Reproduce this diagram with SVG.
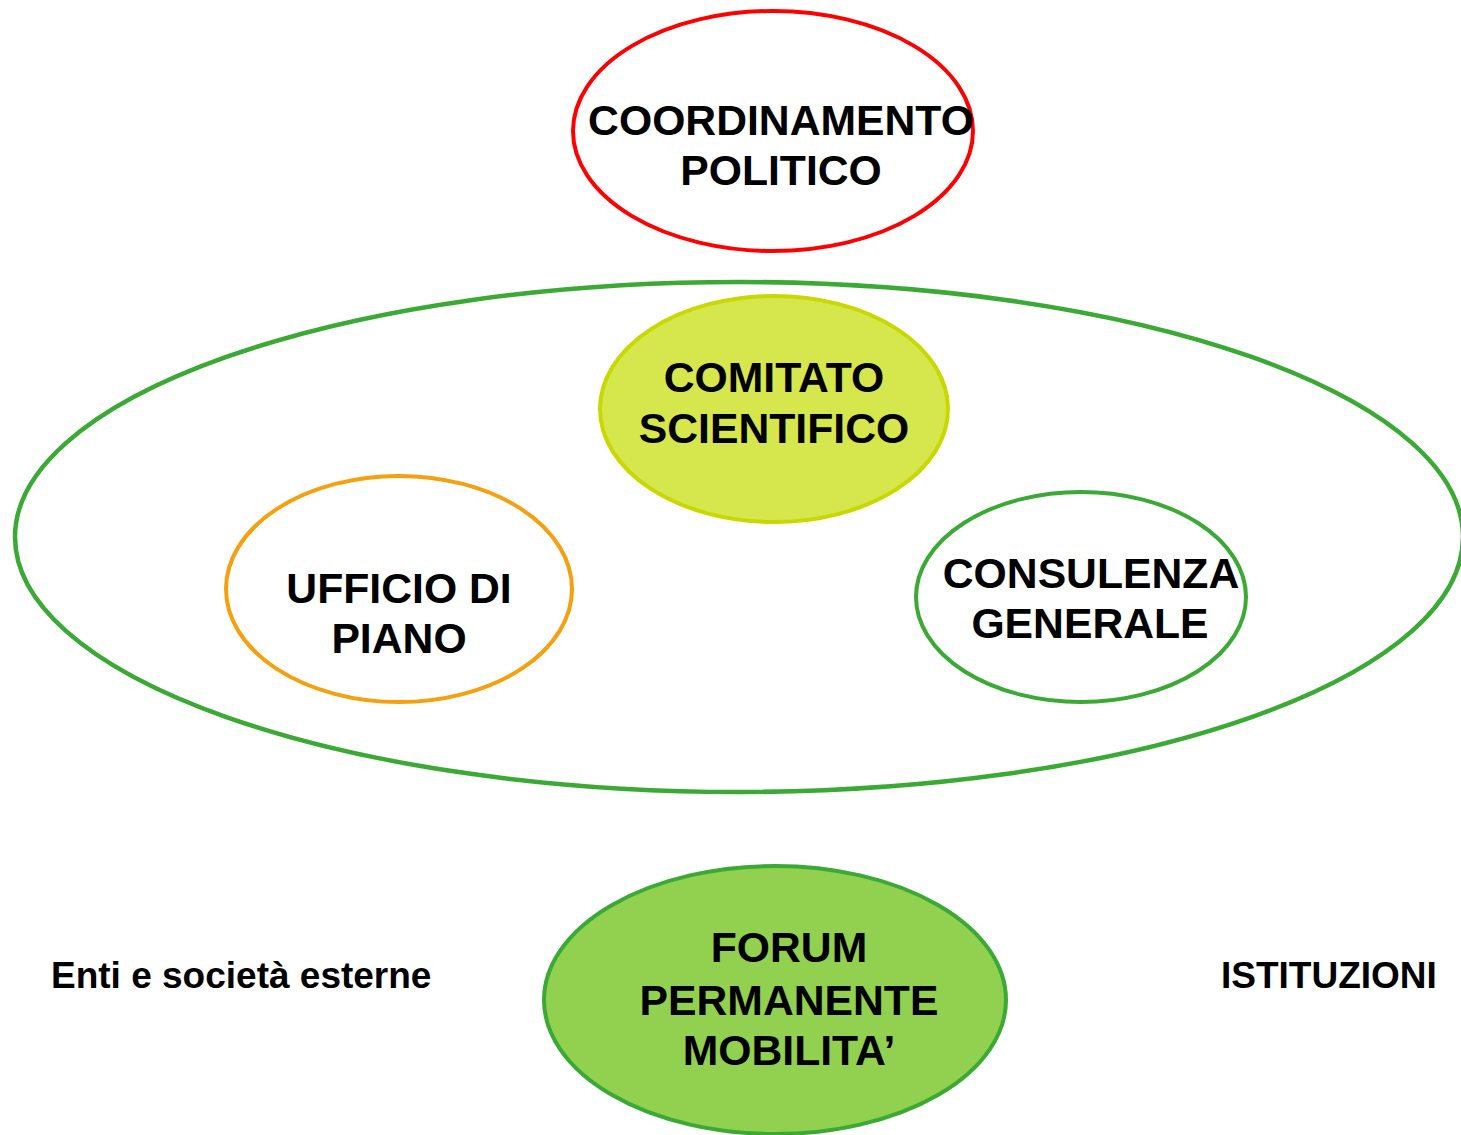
<svg xmlns="http://www.w3.org/2000/svg" width="1461" height="1135" viewBox="0 0 1461 1135">
<style>
.t{font-family:"Liberation Sans",Arial,sans-serif;font-weight:bold;font-size:42.7px;fill:#000;text-anchor:middle}
.s{font-family:"Liberation Sans",Arial,sans-serif;font-weight:bold;font-size:37px;fill:#000}
</style>
<rect width="1461" height="1135" fill="#fff"/>
<g id="outer"><ellipse cx="739" cy="537" rx="724" ry="255" fill="none" stroke="#3aaa35" stroke-width="4.5"/></g>
<g id="coordinamento"><ellipse cx="773" cy="131" rx="200" ry="120" fill="#fff" stroke="#ff0000" stroke-width="4"/>
<text class="t" x="781" y="135">COORDINAMENTO</text><text class="t" x="781" y="185">POLITICO</text></g>
<g id="comitato"><ellipse cx="774" cy="409" rx="174" ry="113" fill="#d6e64d" stroke="#c8d800" stroke-width="4"/>
<text class="t" x="774" y="392">COMITATO</text><text class="t" x="774" y="443">SCIENTIFICO</text></g>
<g id="ufficio"><ellipse cx="399" cy="589" rx="173" ry="113" fill="#fff" stroke="#f5a00f" stroke-width="4"/>
<text class="t" x="399" y="603">UFFICIO DI</text><text class="t" x="399" y="653">PIANO</text></g>
<g id="consulenza"><ellipse cx="1081" cy="597" rx="165" ry="105" fill="#fff" stroke="#3aaa35" stroke-width="4"/>
<text class="t" x="1091" y="588">CONSULENZA</text><text class="t" x="1090" y="638">GENERALE</text></g>
<g id="forum"><ellipse cx="775" cy="1000" rx="231" ry="134" fill="#92d050" stroke="#3aaa35" stroke-width="4"/>
<text class="t" x="789" y="962">FORUM</text><text class="t" x="789" y="1015">PERMANENTE</text><text class="t" x="789" y="1065">MOBILITA’</text></g>
<g id="enti"><text class="s" x="51" y="988">Enti e società esterne</text></g>
<g id="istituzioni"><text class="s" x="1221" y="988">ISTITUZIONI</text></g>
<g id="connectors"></g>
</svg>
